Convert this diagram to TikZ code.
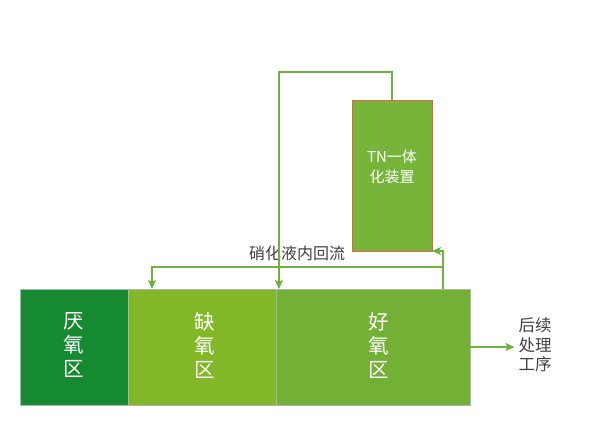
\documentclass[tikz,border=0pt]{standalone}
\usepackage{fontspec}
\setmainfont{Noto Sans CJK SC}
\usepackage{tikz}
\usetikzlibrary{arrows.meta}
\definecolor{anagreen}{RGB}{21,138,48}
\definecolor{anoxgreen}{RGB}{130,184,40}
\definecolor{aergreen}{RGB}{114,176,54}
\definecolor{tngreen}{RGB}{118,180,58}
\definecolor{flowgreen}{RGB}{108,178,60}
\definecolor{tnborder}{RGB}{224,100,70}

\begin{document}
\begin{tikzpicture}
  [x=1pt,y=-1pt,every node/.style={inner sep=0pt,outer sep=0pt},
   zone/.style={rectangle,draw=black!30,line width=0.8pt,minimum height=116pt},
   zonetext/.style={text=white,align=center,font=\fontsize{20.5}{24}\selectfont},
   flow/.style={draw=flowgreen,line width=1.6pt,-{Stealth[length=9pt,width=8pt,inset=2pt]}}]
  \useasboundingbox (0,0) rectangle (590,425);

  \node[zone,fill=anagreen,minimum width=108pt] (ana) at (74,347) {};
  \node[zone,fill=anoxgreen,minimum width=148pt] (anox) at (202,347) {};
  \node[zone,fill=aergreen,minimum width=194pt] (aer) at (373,347) {};
  \node[zonetext] (anatext) at (74,345) {厌\\氧\\区};
  \node[zonetext] (anoxtext) at (204.5,345) {缺\\氧\\区};
  \node[zonetext] (aertext) at (379,345) {好\\氧\\区};

  \node[rectangle,fill=tngreen,draw=tnborder,line width=0.8pt,minimum width=80pt,minimum height=151pt] (tn) at (392,175.5) {};
  \node[text=white,align=center,font=\fontsize{15}{20}\selectfont] (tntext) at (392,167) {TN一体\\化装置};
  \node[text=black!75,font=\fontsize{16}{19}\selectfont] (rlabel) at (297,253) {硝化液内回流};
  \node[text=black!75,align=center,font=\fontsize{16.5}{19.5}\selectfont,inner sep=4pt] (post) at (535,345) {后续\\处理\\工序};

  \coordinate (retin) at (279,289);
  \coordinate (recout) at (443,289);
  \coordinate (split) at (443,267);
  \coordinate (anoxin) at (152,289);

  \draw[flow] (tn.north) -- ++(0,-28) -| (retin);
  \draw[flow] (recout) |- (tn.south east);
  \draw[flow] (split) -| (anoxin);
  \draw[flow] (aer.east) -- (aer.east -| post.west);
\end{tikzpicture}
\end{document}
